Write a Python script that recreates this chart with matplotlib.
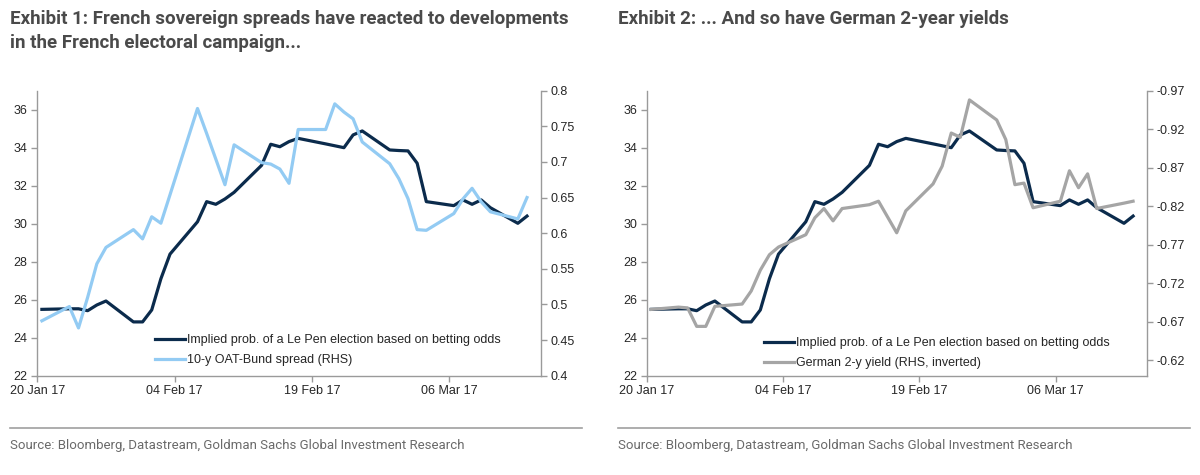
import pandas as pd
import matplotlib
matplotlib.use("Agg")
import matplotlib.pyplot as plt
import matplotlib.dates as mdates
from matplotlib.ticker import FixedLocator, FuncFormatter

# business days of the sample
dates = pd.to_datetime([
    "2017-01-20", "2017-01-23", "2017-01-24", "2017-01-25", "2017-01-26", "2017-01-27",
    "2017-01-30", "2017-01-31", "2017-02-01", "2017-02-02", "2017-02-03",
    "2017-02-06", "2017-02-07", "2017-02-08", "2017-02-09", "2017-02-10",
    "2017-02-13", "2017-02-14", "2017-02-15", "2017-02-16", "2017-02-17",
    "2017-02-20", "2017-02-21", "2017-02-22", "2017-02-23", "2017-02-24",
    "2017-02-27", "2017-02-28", "2017-03-01", "2017-03-02", "2017-03-03",
    "2017-03-06", "2017-03-07", "2017-03-08", "2017-03-09", "2017-03-10",
    "2017-03-13", "2017-03-14",
])

# implied probability of a Le Pen election (betting odds), %
le_pen_prob = [
    25.49, 25.52, 25.52, 25.42, 25.72, 25.93,
    24.83, 24.83, 25.46, 27.10, 28.40,
    30.10, 31.16, 31.02, 31.30, 31.65,
    33.07, 34.18, 34.05, 34.32, 34.49,
    34.20, 34.10, 34.00, 34.67, 34.88,
    33.88, 33.85, 33.83, 33.18, 31.16,
    30.95, 31.25, 31.02, 31.25, 30.84,
    30.02, 30.40,
]

# 10-y OAT-Bund spread, %
oat_bund = [
    0.477, 0.497, 0.467, 0.510, 0.557, 0.580,
    0.605, 0.592, 0.623, 0.614, 0.654,
    0.775, 0.740, 0.704, 0.668, 0.724,
    0.699, 0.697, 0.690, 0.670, 0.7455,
    0.7455, 0.7815, 0.770, 0.7605, 0.728,
    0.6975, 0.6765, 0.6485, 0.605, 0.604,
    0.6275, 0.648, 0.663, 0.644, 0.630,
    0.620, 0.650,
]

# German 2-y yield, %
de_2y = [
    -0.686, -0.689, -0.688, -0.664, -0.664, -0.690,
    -0.693, -0.710, -0.737, -0.757, -0.767,
    -0.783, -0.805, -0.817, -0.801, -0.817,
    -0.822, -0.8265, -0.806, -0.7855, -0.814,
    -0.849, -0.872, -0.915, -0.9095, -0.958,
    -0.932, -0.9065, -0.848, -0.850, -0.818,
    -0.8265, -0.866, -0.844, -0.862, -0.817,
    -0.824, -0.8265,
]

left_ticks = [22, 24, 26, 28, 30, 32, 34, 36]
oat_ticks = [0.4, 0.45, 0.5, 0.55, 0.6, 0.65, 0.7, 0.75, 0.8]
de_ticks = [-0.97, -0.92, -0.87, -0.82, -0.77, -0.72, -0.67, -0.62]
x_ticks = pd.to_datetime(["2017-01-20", "2017-02-04", "2017-02-19", "2017-03-06"])

titles = [
    "Exhibit 1: French sovereign spreads have reacted to developments\nin the French electoral campaign...",
    "Exhibit 2: ... And so have German 2-year yields",
]
source = "Source: Bloomberg, Datastream, Goldman Sachs Global Investment Research"
label_prob = "Implied prob. of a Le Pen election based on betting odds"
label_oat = "10-y OAT-Bund spread (RHS)"
label_de = "German 2-y yield (RHS, inverted)"

NAVY = "#0b2b4c"
LIGHT = "#93cbf3"
GREY = "#a5a5a5"
SPINE = "#9a9a9a"
TXT = "#262626"

plt.rcParams["font.family"] = ["Liberation Sans", "DejaVu Sans"]
plt.rcParams["axes.unicode_minus"] = False

fig = plt.figure(figsize=(12, 4.75), dpi=100)

# Excel date axis puts each point in the middle of its day
xs = dates + pd.Timedelta(hours=12)
xlim = (pd.Timestamp("2017-01-20"), pd.Timestamp("2017-03-16"))


def style_axes(ax, ax2):
    ax.set_xlim(xlim)
    ax.set_ylim(22, 37)
    ax.yaxis.set_major_locator(FixedLocator(left_ticks))
    ax.xaxis.set_major_locator(FixedLocator(mdates.date2num(x_ticks)))
    ax.xaxis.set_major_formatter(mdates.DateFormatter("%d %b %y"))
    for a in (ax, ax2):
        a.spines["top"].set_visible(False)
        for side in ("left", "right", "bottom"):
            a.spines[side].set_color(SPINE)
            a.spines[side].set_linewidth(1.0)
        a.tick_params(axis="both", direction="out", length=4, width=1,
                      color=SPINE, labelsize=9, labelcolor=TXT, pad=3)
    ax.spines["right"].set_visible(False)
    ax2.spines["left"].set_visible(False)
    ax2.spines["bottom"].set_visible(False)


def fmt(v, pos):
    return f"{round(v, 2):g}"


def fit_width(t, target_px):
    # no narrow font installed, so shrink the text to the reference width
    r = fig.canvas.get_renderer()
    w = t.get_window_extent(r).width
    t.set_fontsize(t.get_fontsize() * target_px / w)
    return t.get_fontsize()


# ---- Exhibit 1
ax = fig.add_axes([0.0311, 0.2091, 0.4195, 0.6])
ax2 = ax.twinx()
l1, = ax.plot(xs, le_pen_prob, color=NAVY, lw=2.3, solid_joinstyle="round")
l2, = ax2.plot(xs, oat_bund, color=LIGHT, lw=2.3, solid_joinstyle="round")
ax2.set_ylim(0.4, 0.8)
ax2.yaxis.set_major_locator(FixedLocator(oat_ticks))
ax2.yaxis.set_major_formatter(FuncFormatter(fmt))
style_axes(ax, ax2)
ax2.legend([l1, l2], [label_prob, label_oat], loc="center left",
           bbox_to_anchor=(0.234, 0.089), frameon=False, fontsize=9,
           handlelength=2.4, handletextpad=0.15, labelspacing=0.62,
           borderpad=0, borderaxespad=0, labelcolor=TXT)

# ---- Exhibit 2
bx = fig.add_axes([0.5389, 0.2091, 0.4167, 0.6])
bx2 = bx.twinx()
m1, = bx.plot(xs, le_pen_prob, color=NAVY, lw=2.3, solid_joinstyle="round")
m2, = bx2.plot(xs, de_2y, color=GREY, lw=2.3, solid_joinstyle="round")
bx2.set_ylim(-0.60, -0.97)
bx2.yaxis.set_major_locator(FixedLocator(de_ticks))
bx2.yaxis.set_major_formatter(FuncFormatter(fmt))
style_axes(bx, bx2)
bx2.legend([m1, m2], [label_prob, label_de], loc="center left",
           bbox_to_anchor=(0.2346, 0.079), frameon=False, fontsize=9,
           handlelength=2.4, handletextpad=0.15, labelspacing=0.62,
           borderpad=0, borderaxespad=0, labelcolor=TXT)

# ---- titles, rules, sources
t1 = fig.text(10 / 1200, 1 - 10 / 475, titles[0], ha="left", va="top",
              fontsize=14, fontweight="bold", color="#4a4a4a",
              family="Roboto", linespacing=1.45)
fs = fit_width(t1, 562)
fig.text(618 / 1200, 1 - 10 / 475, titles[1], ha="left", va="top",
         fontsize=fs, fontweight="bold", color="#4a4a4a", family="Roboto")

for x0, x1 in [(10, 582), (618, 1190)]:
    fig.add_artist(plt.Line2D([x0 / 1200, x1 / 1200], [1 - 428 / 475] * 2,
                              color="#a0a0a0", lw=1.2))
    s = fig.text(x0 / 1200, 1 - 446 / 475, source, ha="left", va="center",
                 fontsize=11, color="#6a6a6a", family="Roboto")
    fit_width(s, 454)

fig.savefig("out.png", dpi=100)
